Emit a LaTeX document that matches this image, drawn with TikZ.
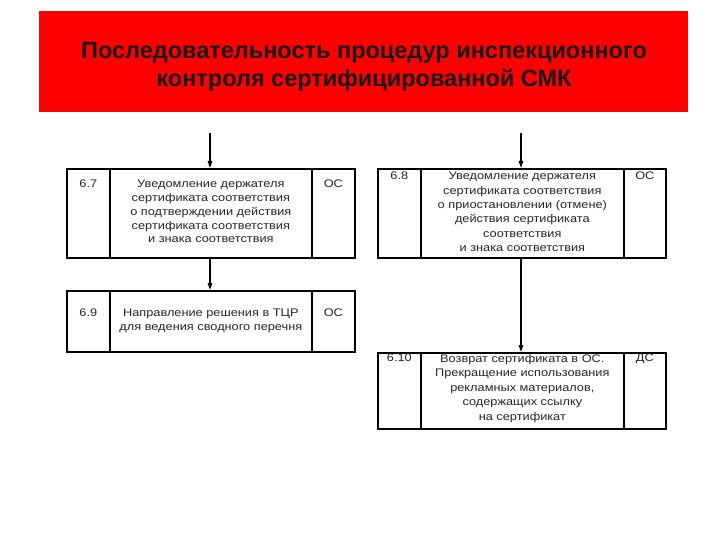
\documentclass[tikz,border=0pt]{standalone}
\usepackage{fontspec}
\setmainfont{Liberation Sans}
\newfontfamily\boxfont[FakeStretch=1.16]{Liberation Sans}
\usetikzlibrary{arrows.meta}
\begin{document}
\begin{tikzpicture}[x=1pt,y=-1pt,
  cell/.style={draw=black,line width=1.7pt,inner sep=0pt,anchor=north west},
  txt/.style={font=\boxfont\fontsize{11}{13.8}\selectfont,align=center,inner sep=0pt,anchor=north,text=black!85},
  ttl/.style={font=\fontsize{23.5}{28}\selectfont\bfseries,align=center,text=black!90},
  arr/.style={line width=1.4pt,-{Triangle[length=7pt,width=4.5pt]}}]
\useasboundingbox (0,0) rectangle (720,540);
\fill[white] (0,0) rectangle (720,540);
\node[fill=red,minimum width=649pt,minimum height=101pt,inner sep=0pt,anchor=north west] (hdr) at (39,11) {};
\node[ttl] (title) at (364,67) {Последовательность процедур инспекционного\\контроля сертифицированной СМК};
% left top box
\node[cell,minimum width=43pt,minimum height=89pt] (a1) at (66,168) {};
\node[cell,minimum width=202pt,minimum height=89pt] (a2) at (109,168) {};
\node[cell,minimum width=43pt,minimum height=89pt] (a3) at (311,168) {};
\node[txt] (a1t) at ([yshift=-12]a1.north) {6.7};
\node[txt] (a2t) at ([yshift=-12]a2.north) {Уведомление держателя\\сертификата соответствия\\о подтверждении действия\\сертификата соответствия\\и знака соответствия};
\node[txt] (a3t) at ([yshift=-12]a3.north) {ОС};
% left bottom box
\node[cell,minimum width=43pt,minimum height=61pt] (b1) at (66,290) {};
\node[cell,minimum width=202pt,minimum height=61pt] (b2) at (109,290) {};
\node[cell,minimum width=43pt,minimum height=61pt] (b3) at (311,290) {};
\node[txt] (b1t) at ([yshift=-19]b1.north) {6.9};
\node[txt] (b2t) at ([yshift=-19]b2.north) {Направление решения в ТЦР\\для ведения сводного перечня};
\node[txt] (b3t) at ([yshift=-19]b3.north) {ОС};
% right top box
\node[cell,minimum width=43pt,minimum height=89pt] (c1) at (377,168) {};
\node[cell,minimum width=203pt,minimum height=89pt] (c2) at (420,168) {};
\node[cell,minimum width=42pt,minimum height=89pt] (c3) at (623,168) {};
\node[txt] (c1t) at ([yshift=-4]c1.north) {6.8};
\node[txt,font=\boxfont\fontsize{11}{14.4}\selectfont] (c2t) at ([yshift=-4]c2.north) {Уведомление держателя\\сертификата соответствия\\о приостановлении (отмене)\\действия сертификата\\соответствия\\и знака соответствия};
\node[txt] (c3t) at ([yshift=-4]c3.north) {ОС};
% right bottom box
\node[cell,minimum width=43pt,minimum height=76pt] (d1) at (377,352) {};
\node[cell,minimum width=203pt,minimum height=76pt] (d2) at (420,352) {};
\node[cell,minimum width=42pt,minimum height=76pt] (d3) at (623,352) {};
\node[txt] (d1t) at ([yshift=-2]d1.north) {6.10};
\node[txt,font=\boxfont\fontsize{11}{14.5}\selectfont] (d2t) at ([yshift=-2]d2.north) {Возврат сертификата в ОС.\\Прекращение использования\\рекламных материалов,\\содержащих ссылку\\на сертификат};
\node[txt] (d3t) at ([yshift=-2]d3.north) {ДС};
% arrows
\coordinate (ta) at (210,133);
\coordinate (tc) at (521,133);
\draw[arr] (ta) -- (ta |- a2.north);
\draw[arr] (ta |- a2.south) -- (ta |- b2.north);
\draw[arr] (tc) -- (tc |- c2.north);
\draw[arr] (tc |- c2.south) -- (tc |- d2.north);
\end{tikzpicture}
\end{document}
